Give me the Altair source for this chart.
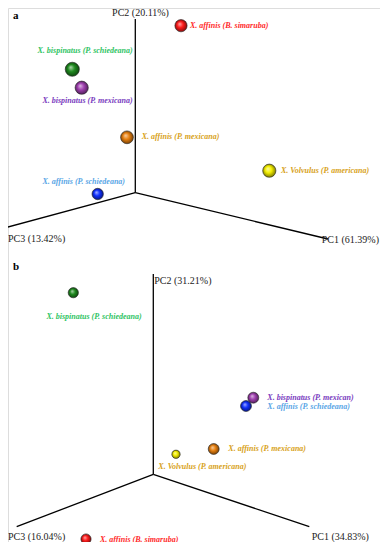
import altair as alt
import pandas as pd

# ---- projected PCA coordinates (page pixel space of the figure) ----
# Panel a
a_names = ["X. affinis (B. simaruba)", "X. bispinatus (P. schiedeana)", "X. bispinatus (P. mexicana)",
           "X. affinis (P. mexicana)", "X. Volvulus (P. americana)", "X. affinis (P. schiedeana)"]
a_px = [181, 72.3, 81.7, 127, 269.3, 97.7]
a_py = [25.7, 69.3, 87.7, 137.3, 170.7, 194]
a_size = [150, 200, 175, 165, 175, 130]

# Panel b
b_names = ["X. bispinatus (P. schiedeana)", "X. bispinatus (P. mexican)", "X. affinis (P. schiedeana)",
           "X. affinis (P. mexicana)", "X. Volvulus (P. americana)", "X. affinis (B. simaruba)"]
b_px = [73.3, 253.3, 246, 213.7, 176, 86]
b_py = [292.7, 397.7, 406, 449, 454.3, 539]
b_size = [105, 120, 120, 120, 70, 105]

sphere_colors = {
    "red": "#ff1a1a", "green": "#1f8a1f", "purple": "#a040b0",
    "orange": "#e8800f", "yellow": "#f5f000", "blue": "#1030ff",
}
a_colors = ["red", "green", "purple", "orange", "yellow", "blue"]
b_colors = ["green", "purple", "blue", "orange", "yellow", "red"]

label_colors = {
    "red": "#ff2a2a", "green": "#2fc464", "purple": "#7a3cc0",
    "orange": "#d8a21a", "yellow": "#d8a21a", "blue": "#5aa6e6",
}

# Labels
a_lab_x = [190, 132.7, 132.7, 141.7, 281, 125]
a_lab_y = [25.5, 50.5, 101, 137, 171, 182]
a_lab_align = ["left", "right", "right", "left", "left", "right"]

b_lab_x = [94, 267.3, 267.3, 228.3, 158.3, 100]
b_lab_y = [316.7, 397.5, 407, 449, 467.3, 539.5]
b_lab_align = ["center", "left", "left", "left", "left", "left"]

# Axes: (origin, end) pairs for PC2, PC1, PC3 in each panel
axis_x = [135.3, 135.3, 135.3, 328, 135.3, 6,
          153.3, 153.3, 153.3, 309.3, 153.3, 16.7]
axis_y = [192.7, 19, 192.7, 239, 192.7, 227.5,
          474.3, 274, 474.3, 526.7, 474.3, 526.7]

axis_titles = ["PC2 (20.11%)", "PC1 (61.39%)", "PC3 (13.42%)",
               "PC2 (31.21%)", "PC1 (34.83%)", "PC3 (16.04%)"]
axis_tx = [140.5, 379, 8, 154.3, 311.7, 8]
axis_ty = [13, 239.5, 238.5, 281, 537, 537]
axis_talign = ["center", "right", "left", "left", "left", "left"]

panel_letters = ["a", "b"]
panel_lx = [13, 13]
panel_ly = [16, 267]

# ---- build tables ----
pts = pd.DataFrame({
    "name": a_names + b_names,
    "x": a_px + b_px,
    "y": a_py + b_py,
    "size": a_size + b_size,
    "col": a_colors + b_colors,
})
labs = pd.DataFrame({
    "text": a_names + b_names,
    "x": a_lab_x + b_lab_x,
    "y": a_lab_y + b_lab_y,
    "align": a_lab_align + b_lab_align,
    "color": [label_colors[c] for c in a_colors + b_colors],
})
segs = pd.DataFrame({
    "x": axis_x[0::2], "y": axis_y[0::2],
    "x2": axis_x[1::2], "y2": axis_y[1::2],
})
atitles = pd.DataFrame({"text": axis_titles, "x": axis_tx, "y": axis_ty, "align": axis_talign})
letters = pd.DataFrame({"text": panel_letters, "x": panel_lx, "y": panel_ly})

W, H = 372, 534
xs = alt.Scale(domain=[8, 8 + W], nice=False, zero=False)
ys = alt.Scale(domain=[8, 8 + H], nice=False, zero=False, reverse=True)
X = lambda f: alt.X(f, type="quantitative", scale=xs, axis=None)
Y = lambda f: alt.Y(f, type="quantitative", scale=ys, axis=None)

serif = "Liberation Serif"

rules = alt.Chart(segs).mark_rule(color="black", strokeWidth=1.3).encode(
    x=X("x"), y=Y("y"), x2="x2", y2="y2"
)

title_layers = []
for al in ["left", "center", "right"]:
    sub = atitles[atitles["align"] == al]
    if len(sub):
        title_layers.append(alt.Chart(sub).mark_text(
            font=serif, fontSize=10, color="#222", align=al, baseline="middle"
        ).encode(x=X("x"), y=Y("y"), text="text"))

letter_layer = alt.Chart(letters).mark_text(
    font=serif, fontSize=11, fontWeight="bold", color="black", align="left", baseline="middle"
).encode(x=X("x"), y=Y("y"), text="text")

label_layers = []
for al in ["left", "center", "right"]:
    sub = labs[labs["align"] == al]
    if len(sub):
        label_layers.append(alt.Chart(sub).mark_text(
            font=serif, fontSize=8, fontStyle="italic", fontWeight="bold",
            align=al, baseline="middle"
        ).encode(x=X("x"), y=Y("y"), text="text",
                 color=alt.Color("color:N", scale=None)))

def shade(hexcol, f):
    h = hexcol.lstrip("#")
    r, g, b = int(h[0:2], 16), int(h[2:4], 16), int(h[4:6], 16)
    if f >= 0:
        r, g, b = [int(v + (255 - v) * f) for v in (r, g, b)]
    else:
        r, g, b = [int(v * (1 + f)) for v in (r, g, b)]
    return "#%02x%02x%02x" % (r, g, b)

sphere_layers = []
for cname, hexcol in sphere_colors.items():
    sub = pts[pts["col"] == cname]
    if not len(sub):
        continue
    grad = alt.RadialGradient(
        gradient="radial",
        stops=[alt.GradientStop(offset=0, color=shade(hexcol, 0.65)),
               alt.GradientStop(offset=0.45, color=hexcol),
               alt.GradientStop(offset=1, color=shade(hexcol, -0.55))],
        x1=0.38, y1=0.35, r1=0, x2=0.5, y2=0.5, r2=0.55,
    )
    sphere_layers.append(alt.Chart(sub).mark_circle(
        fill=grad, opacity=1, stroke="#222", strokeWidth=0.6
    ).encode(x=X("x"), y=Y("y"), size=alt.Size("size:Q", scale=None)))

chart = alt.layer(rules, *title_layers, letter_layer, *label_layers, *sphere_layers).properties(
    width=W, height=H, padding=0, autosize="none"
).configure_view(stroke=None).configure(background="white")

chart.save("out.html", embed_options={"renderer": "svg", "actions": False})
